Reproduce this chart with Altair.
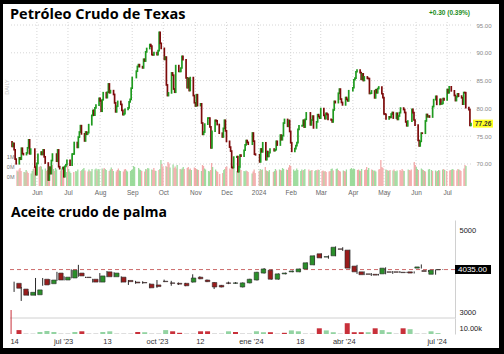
import altair as alt
import pandas as pd

# ---------------- WTI crude oil (daily candles) ----------------
wti_start = "2023-05-08"
wti_end = "2024-07-24"
wti_holidays = ["2023-05-29", "2023-06-19", "2023-07-04", "2023-09-04", "2023-11-23",
                "2023-12-25", "2024-01-01", "2024-01-15", "2024-02-19", "2024-03-29",
                "2024-05-27", "2024-06-19", "2024-07-04"]
wti_first_open = 74.0
wti_close = [
    # May 2023
    73.16, 73.71, 72.56, 70.87, 70.04, 71.11, 70.86, 72.83, 71.86, 71.69, 71.99, 72.91, 74.34, 71.83, 72.67, 69.46, 68.09,
    # Jun
    70.10, 71.74, 72.15, 71.74, 72.53, 71.29, 70.17, 67.12, 69.42, 68.27, 70.62, 71.78, 70.50, 72.53, 69.51, 69.16, 69.37, 67.70, 69.56, 69.86, 70.64,
    # Jul
    69.79, 71.79, 71.80, 73.86, 72.99, 74.83, 75.75, 76.89, 75.42, 74.15, 75.75, 75.35, 75.63, 77.07, 78.74, 79.63, 78.78, 80.09, 80.58, 81.80,
    # Aug
    81.37, 79.49, 81.55, 82.82, 81.94, 82.92, 84.40, 82.82, 83.19, 82.51, 80.99, 79.38, 80.39, 81.25, 80.72, 79.64, 78.89, 79.05, 79.83, 80.10, 81.16, 81.63, 83.63,
    # Sep
    85.55, 86.69, 87.54, 87.87, 87.51, 87.29, 88.84, 88.52, 90.16, 90.77, 91.48, 91.20, 89.66, 89.63, 90.03, 89.68, 90.39, 93.68, 91.71, 90.79,
    # Oct
    88.82, 89.23, 84.22, 82.31, 82.79, 86.38, 85.97, 83.49, 82.91, 87.69, 86.66, 86.66, 87.27, 89.37, 88.75, 85.49, 83.74, 85.39, 83.21, 85.54, 82.31, 81.02,
    # Nov
    80.44, 82.46, 80.51, 80.82, 77.37, 75.33, 75.74, 77.17, 78.26, 78.26, 76.66, 72.90, 75.89, 77.83, 77.77, 77.10, 75.54, 74.86, 76.41, 77.86, 75.96,
    # Dec
    74.07, 73.04, 72.32, 69.38, 69.34, 71.23, 71.32, 68.61, 69.47, 71.58, 71.43, 72.47, 73.44, 74.22, 73.89, 73.56, 75.57, 74.11, 71.77, 71.65,
    # Jan 2024
    70.38, 72.70, 72.19, 73.81, 70.77, 72.24, 71.37, 72.02, 72.68, 72.40, 72.56, 74.08, 73.41, 75.19, 74.37, 75.09, 77.36, 78.01, 76.78, 77.82, 75.85,
    # Feb
    73.82, 72.28, 72.78, 73.31, 73.86, 76.22, 76.84, 76.92, 77.87, 76.64, 78.03, 79.19, 77.04, 77.91, 78.61, 76.49, 77.58, 78.87, 78.54, 78.26,
    # Mar
    79.97, 78.74, 78.15, 79.13, 78.93, 78.01, 77.93, 77.56, 79.72, 81.26, 81.04, 82.72, 83.47, 81.68, 81.07, 80.63, 81.95, 81.62, 81.35, 83.17,
    # Apr
    83.71, 85.15, 85.43, 86.59, 86.91, 86.43, 85.23, 86.21, 85.02, 85.66, 85.41, 85.36, 82.69, 82.73, 83.14, 81.90, 83.36, 82.81, 83.57, 83.85, 82.63, 81.93,
    # May
    79.00, 78.95, 78.11, 78.48, 78.38, 78.99, 79.26, 78.26, 79.12, 78.02, 78.63, 79.23, 80.06, 79.80, 79.26, 77.57, 76.87, 77.72, 79.83, 79.23, 77.91, 76.99,
    # Jun
    74.22, 73.25, 74.07, 75.55, 75.53, 77.74, 78.90, 78.50, 78.62, 78.45, 80.33, 81.57, 82.17, 80.73, 81.63, 80.83, 80.90, 81.74, 81.54,
    # Jul
    83.38, 82.81, 83.88, 83.16, 82.33, 81.41, 82.10, 82.62, 82.21, 81.91, 80.76, 82.85, 82.82, 80.13, 79.78, 76.96, 77.26,
]
wti_volume_k = [
    310, 290, 330, 360, 300, 280, 270, 320, 290, 260, 250, 300, 340, 380, 290, 380, 400,
    390, 330, 350, 300, 320, 290, 280, 420, 340, 300, 360, 330, 310, 350, 380, 300, 280, 410, 340, 290, 260,
    280, 300, 290, 330, 300, 320, 340, 360, 310, 290, 330, 300, 290, 340, 330, 350, 310, 340, 330, 350,
    330, 360, 340, 320, 300, 330, 370, 340, 300, 290, 320, 350, 310, 300, 290, 330, 340, 310, 290, 300, 320, 330, 400,
    380, 360, 330, 320, 300, 290, 340, 330, 360, 350, 330, 320, 360, 310, 300, 320, 340, 520, 440, 380,
    400, 380, 480, 450, 370, 430, 360, 390, 350, 420, 340, 330, 350, 380, 340, 360, 380, 330, 350, 320, 370, 360,
    340, 330, 320, 300, 420, 400, 350, 330, 300, 290, 320, 460, 380, 330, 300, 280, 240, 260, 320, 340, 380,
    390, 350, 330, 450, 400, 340, 300, 410, 360, 380, 320, 300, 290, 310, 300, 280, 250, 290, 330, 260,
    300, 340, 320, 330, 380, 310, 300, 290, 320, 280, 300, 340, 310, 330, 320, 310, 360, 340, 330, 320, 370,
    420, 400, 330, 300, 310, 350, 320, 300, 330, 310, 320, 340, 330, 300, 310, 320, 300, 320, 310, 330,
    320, 300, 310, 290, 300, 280, 290, 300, 340, 350, 310, 340, 350, 320, 300, 290, 310, 300, 290, 330,
    340, 360, 330, 350, 340, 320, 330, 310, 300, 340, 320, 330, 380, 320, 360, 330, 320, 300, 310, 290, 330, 340,
    520, 380, 360, 330, 320, 310, 300, 320, 310, 330, 300, 290, 310, 320, 300, 340, 310, 300, 330, 320, 310, 330,
    480, 420, 380, 340, 320, 350, 330, 320, 300, 290, 330, 340, 320, 300, 310, 290, 300, 320, 310,
    330, 340, 320, 300, 310, 320, 330, 340, 320, 310, 340, 330, 320, 300, 350, 420, 400,
]
wti_title = "Petróleo Crudo de Texas"
wti_change_text = "+0.30 (0.39%)"
wti_side_text = "DAILY"
wti_price_ticks = [70, 75, 80, 85, 90, 95]
wti_volume_ticks = [200000, 400000, 600000]
wti_month_ticks = ["2023-06-01", "2023-07-01", "2023-08-01", "2023-09-01", "2023-10-01",
                   "2023-11-01", "2023-12-01", "2024-01-01", "2024-02-01", "2024-03-01",
                   "2024-04-01", "2024-05-01", "2024-06-01", "2024-07-01"]
wti_month_labels = ["Jun", "Jul", "Aug", "Sep", "Oct", "Nov", "Dec", "2024",
                    "Feb", "Mar", "Apr", "May", "Jun", "Jul"]

# ---------------- Crude palm oil (weekly candles) ----------------
palm_start = "2023-05-14"
palm_open = [3700, 3560, 3410, 3420, 3800, 3690, 3950, 3780, 3830, 3950,
             3850, 3800, 3730, 3980, 3860, 3850, 3770, 3730, 3720, 3680,
             3660, 3750, 3710, 3700, 3700, 3730, 3850, 3780, 3720, 3650,
             3710, 3700, 3610, 3710, 3780, 3950, 4020, 3800, 3930, 3980,
             3980, 4050, 4150, 4420, 4340, 4370, 4540, 4510, 4120, 3980,
             3930, 3920, 3930, 3980, 3980, 3970, 3980, 4070, 4010, 3920,
             4030]
palm_high = [3740, 3610, 3500, 3830, 3830, 3800, 3980, 3870, 4040, 4150,
             3860, 3810, 3950, 4000, 3970, 3870, 3780, 3760, 3750, 3700,
             3780, 3790, 3760, 3720, 3710, 3920, 3870, 3790, 3730, 3660,
             3740, 3730, 3720, 3810, 3980, 4070, 4030, 3940, 3960, 4010,
             4060, 4210, 4380, 4430, 4380, 4600, 4580, 4520, 4150, 3990,
             3950, 3930, 4090, 4000, 4000, 3980, 3990, 4160, 4020, 4030,
             4040]
palm_low = [3490, 3270, 3400, 3400, 3640, 3670, 3760, 3770, 3820, 3860,
            3830, 3720, 3720, 3850, 3850, 3720, 3660, 3690, 3690, 3580,
            3590, 3730, 3640, 3660, 3630, 3720, 3800, 3730, 3560, 3600,
            3680, 3690, 3600, 3700, 3770, 3940, 3790, 3790, 3920, 3970,
            3970, 4040, 4140, 4310, 4300, 4360, 4490, 4060, 3930, 3900,
            3880, 3890, 3920, 3930, 3950, 3950, 3940, 4060, 3980, 3910,
            4025]
palm_close = [3580, 3410, 3480, 3540, 3660, 3780, 3780, 3850, 4020, 3880,
              3840, 3730, 3880, 3860, 3950, 3730, 3740, 3710, 3710, 3590,
              3620, 3740, 3700, 3680, 3640, 3830, 3810, 3740, 3610, 3610,
              3700, 3710, 3710, 3800, 3970, 4050, 3800, 3930, 3950, 4000,
              4050, 4200, 4370, 4320, 4350, 4580, 4530, 4070, 3980, 3910,
              3920, 3900, 4070, 3970, 3970, 3960, 3950, 4100, 3990, 4020,
              4035]
palm_vol_k = [6.5, 1, 1, 3.3, 5, 3.3, 1, 1, 3.3, 4.5,
              1, 1, 3.3, 4.5, 1, 1, 1, 3.3, 3, 1,
              1, 6.5, 4.5, 2, 1, 1, 4.5, 4.5, 1, 1,
              4.5, 3.3, 1, 1, 4.5, 3, 3, 1, 2, 6,
              4.5, 1, 1, 9.5, 6, 3, 1, 18, 3, 3,
              3, 9.5, 6.5, 3, 1, 9.5, 8, 1, 1, 4.5,
              1.5]
palm_vol_dir = ["down", "flat", "flat", "up", "up", "up", "flat", "flat", "up", "down",
                "flat", "flat", "up", "up", "flat", "flat", "flat", "down", "up", "flat",
                "flat", "up", "down", "down", "flat", "flat", "down", "down", "flat", "flat",
                "up", "down", "flat", "flat", "up", "up", "down", "flat", "down", "up",
                "up", "flat", "flat", "down", "up", "up", "flat", "down", "down", "down",
                "up", "down", "up", "up", "flat", "down", "up", "flat", "flat", "up",
                "up"]
palm_spike_k = 40
palm_title = "Aceite crudo de palma"
palm_ref_price = 4035.0
palm_price_ticks = [3000, 5000]
palm_volume_ticks = [10000]
palm_tick_dates = ["2023-05-14", "2023-07-01", "2023-08-13", "2023-10-01", "2023-11-12",
                   "2024-01-01", "2024-02-18", "2024-04-01", "2024-07-01"]
palm_tick_labels = ["14", "jul '23", "13", "oct '23", "12", "ene '24", "18", "abr '24", "jul '24"]

# ---------------- tables ----------------
hol = set(pd.to_datetime(wti_holidays))
wti_dates = [d for d in pd.bdate_range(wti_start, wti_end) if d not in hol]
assert len(wti_dates) == len(wti_close) == len(wti_volume_k)
wti = pd.DataFrame({
    "date": wti_dates,
    "open": [wti_first_open] + wti_close[:-1],
    "close": wti_close,
    "volume": [v * 1000 for v in wti_volume_k],
})
wti_last = wti.iloc[[-1]]

palm = pd.DataFrame({
    "date": pd.date_range(palm_start, periods=len(palm_close), freq="7D"),
    "open": palm_open, "high": palm_high, "low": palm_low, "close": palm_close,
    "volume": [v * 1000 for v in palm_vol_k], "dir": palm_vol_dir,
})
palm_first = palm.iloc[[0]].assign(spike=palm_spike_k * 1000)
palm_ref = pd.DataFrame({"p": [palm_ref_price]})


def dt(s):
    t = pd.Timestamp(s)
    return alt.DateTime(year=t.year, month=t.month, date=t.day)


def label_expr(dates, labels):
    expr = "''"
    for d, l in reversed(list(zip(dates, labels))):
        expr = f"timeFormat(datum.value, '%Y-%m-%d') == '{d}' ? \"{l}\" : ({expr})"
    return expr


FONT = "Liberation Sans"
GREEN, RED = "#1f9a1f", "#7d0b0b"

# ---------------- scales ----------------
wti_x = alt.Scale(domain=[dt("2023-05-07"), dt("2024-07-25")], range=[11, 472])
wti_y = alt.Scale(domain=[66.04, 95.54], range=[186, 22], nice=False, zero=False)
wti_vy = alt.Scale(domain=[0, 3280000], range=[186, 22], nice=False)
palm_x = alt.Scale(domain=[dt("2023-05-10"), dt("2024-07-19")], range=[10, 455])
palm_y = alt.Scale(domain=[2854, 5244], range=[318, 220], nice=False, zero=False)
palm_vy = alt.Scale(domain=[0, 26667], range=[334, 318], nice=False)

one = alt.Data(values=[{"a": 1}])

# ---------------- WTI layers ----------------
wti_hgrid = alt.Chart(pd.DataFrame({"v": wti_price_ticks})).mark_rule(
    color="#d6d6d6", strokeDash=[1, 2], strokeWidth=1).encode(
    y=alt.Y("v:Q", scale=wti_y, axis=None), x=alt.value(11), x2=alt.value(472))
wti_vgrid = alt.Chart(pd.DataFrame({"date": pd.to_datetime(wti_month_ticks)})).mark_rule(
    color="#d6d6d6", strokeDash=[1, 2], strokeWidth=1).encode(
    x=alt.X("date:T", scale=wti_x, axis=None), y=alt.value(22), y2=alt.value(186))

wti_vol = alt.Chart(wti).mark_bar(size=1.3, opacity=0.9).encode(
    x=alt.X("date:T", scale=wti_x, axis=None),
    y=alt.Y("volume:Q", scale=wti_vy, axis=alt.Axis(
        orient="left", offset=-15, values=wti_volume_ticks, format="~s", domain=False,
        ticks=False, grid=False, labelFontSize=5.5, labelColor="#777", labelPadding=1,
        labelFont=FONT, title=None)),
    color=alt.condition("datum.close >= datum.open", alt.value("#93d893"), alt.value("#f3a3a3")),
)

wti_candles = alt.Chart(wti).mark_rule(strokeWidth=1.7, strokeCap="square").encode(
    x=alt.X("date:T", scale=wti_x, axis=alt.Axis(
        orient="bottom", offset=-168, values=[dt(d) for d in wti_month_ticks],
        labelExpr=label_expr(wti_month_ticks, wti_month_labels), domain=False, ticks=False,
        grid=False, labelFontSize=6.5, labelColor="#666", labelPadding=3, labelOverlap=False,
        labelFlush=False, labelFont=FONT, title=None)),
    y=alt.Y("open:Q", scale=wti_y, axis=alt.Axis(
        orient="right", offset=-32, values=wti_price_ticks, format=".2f", domain=False,
        ticks=False, grid=False, labelFontSize=6, labelColor="#888", labelPadding=4,
        labelFont=FONT, title=None)),
    y2="close:Q",
    color=alt.condition("datum.close >= datum.open", alt.value(GREEN), alt.value(RED)),
)

wti_last_box = alt.Chart(wti_last).mark_rule(color="#ffff20", strokeWidth=8).encode(
    y=alt.Y("close:Q", scale=wti_y, axis=None), x=alt.value(473), x2=alt.value(493))
wti_last_text = alt.Chart(wti_last).mark_text(
    align="left", baseline="middle", fontSize=6.5, fontWeight="bold", font=FONT, color="#333").encode(
    y=alt.Y("close:Q", scale=wti_y, axis=None), x=alt.value(475),
    text=alt.Text("close:Q", format=".2f"))

wti_title_t = alt.Chart(pd.DataFrame({"t": [wti_title]})).mark_text(
    align="left", baseline="alphabetic", font="Open Sans", fontWeight="bold", fontSize=14.5,
    color="black").encode(x=alt.value(10), y=alt.value(19), text="t:N")
wti_change_t = alt.Chart(pd.DataFrame({"t": [wti_change_text]})).mark_text(
    align="right", baseline="alphabetic", font=FONT, fontWeight="bold", fontSize=6.5,
    color="#1a8c1a").encode(x=alt.value(470), y=alt.value(15), text="t:N")
wti_side_t = alt.Chart(pd.DataFrame({"t": [wti_side_text]})).mark_text(
    angle=270, baseline="middle", font=FONT, fontSize=5.5, color="#c8c8c8").encode(
    x=alt.value(7), y=alt.value(87), text="t:N")

# ---------------- palm oil layers ----------------
palm_divider = alt.Chart(one).mark_rule(color="#d0d0d0", strokeWidth=1).encode(
    x=alt.value(10), x2=alt.value(455), y=alt.value(318))

palm_vol = alt.Chart(palm).mark_bar(size=5).encode(
    x=alt.X("date:T", scale=palm_x, axis=None),
    y=alt.Y("volume:Q", scale=palm_vy, axis=alt.Axis(
        orient="right", offset=-49, values=palm_volume_ticks, format=".4s", domain=True,
        domainColor="#d0d0d0", ticks=False, grid=False, labelFontSize=7.5, labelColor="#222",
        labelPadding=4, labelFont=FONT, title=None)),
    color=alt.Color("dir:N", scale=alt.Scale(domain=["up", "down", "flat"],
                                             range=["#93d3a2", "#c8303a", "#c8c8c8"]), legend=None),
)
palm_spike = alt.Chart(palm_first).mark_rule(color="#c8303a", strokeWidth=1, xOffset=-3).encode(
    x=alt.X("date:T", scale=palm_x, axis=None),
    y=alt.Y("spike:Q", scale=palm_vy, axis=None), y2=alt.datum(0))

palm_refline = alt.Chart(palm_ref).mark_rule(color="#cc6a6a", strokeDash=[4, 3], strokeWidth=1).encode(
    y=alt.Y("p:Q", scale=palm_y, axis=None), x=alt.value(10), x2=alt.value(455))

palm_wicks = alt.Chart(palm).mark_rule(color="#2a2a2a", strokeWidth=1).encode(
    x=alt.X("date:T", scale=palm_x, axis=alt.Axis(
        orient="bottom", offset=-20, values=[dt(d) for d in palm_tick_dates],
        labelExpr=label_expr(palm_tick_dates, palm_tick_labels), domain=False, ticks=False,
        grid=False, labelFontSize=7.5, labelColor="#333", labelPadding=3, labelOverlap=False,
        labelFlush=False, labelFont=FONT, title=None)),
    y=alt.Y("low:Q", scale=palm_y, axis=alt.Axis(
        orient="right", offset=-49, values=palm_price_ticks, format="d", domain=True,
        domainColor="#d0d0d0", ticks=False, grid=False, labelFontSize=7.5, labelColor="#222",
        labelPadding=4, labelFont=FONT, title=None)),
    y2="high:Q",
)
palm_bodies = alt.Chart(palm).mark_bar(size=4.5, stroke="#2a2a2a", strokeWidth=0.6).encode(
    x=alt.X("date:T", scale=palm_x, axis=None),
    y=alt.Y("open:Q", scale=palm_y, axis=None),
    y2="close:Q",
    color=alt.condition("datum.close >= datum.open", alt.value("#2a8f2a"), alt.value("#9a1c1c")),
)

palm_ref_box = alt.Chart(palm_ref).mark_rule(color="black", strokeWidth=9).encode(
    y=alt.Y("p:Q", scale=palm_y, axis=None), x=alt.value(455), x2=alt.value(491))
palm_ref_text = alt.Chart(palm_ref).mark_text(
    align="left", baseline="middle", fontSize=8, font=FONT, color="white").encode(
    y=alt.Y("p:Q", scale=palm_y, axis=None), x=alt.value(458),
    text=alt.Text("p:Q", format=".2f"))

palm_title_t = alt.Chart(pd.DataFrame({"t": [palm_title]})).mark_text(
    align="left", baseline="alphabetic", font="Open Sans", fontWeight="bold", fontSize=14,
    color="black").encode(x=alt.value(11), y=alt.value(217), text="t:N")

# ---------------- frame ----------------
def frame_rect(x, x2, y, y2):
    return alt.Chart(one).mark_rect(color="black").encode(
        x=alt.value(x), x2=alt.value(x2), y=alt.value(y), y2=alt.value(y2))

frame = [frame_rect(0, 504, 0, 4), frame_rect(0, 504, 348, 354),
         frame_rect(0, 3, 0, 354), frame_rect(499, 504, 0, 354)]

chart = alt.layer(
    wti_hgrid, wti_vgrid, wti_vol, wti_candles, wti_last_box, wti_last_text,
    wti_title_t, wti_change_t, wti_side_t,
    palm_divider, palm_vol, palm_spike, palm_refline, palm_wicks, palm_bodies,
    palm_ref_box, palm_ref_text, palm_title_t,
    *frame,
).resolve_scale(
    x="independent", y="independent", color="independent"
).properties(
    width=504, height=354, padding=0, background="white",
    autosize=alt.AutoSizeParams(type="none"),
).configure_view(stroke=None)

chart.save("out.html", embed_options={"renderer": "svg", "actions": False})
